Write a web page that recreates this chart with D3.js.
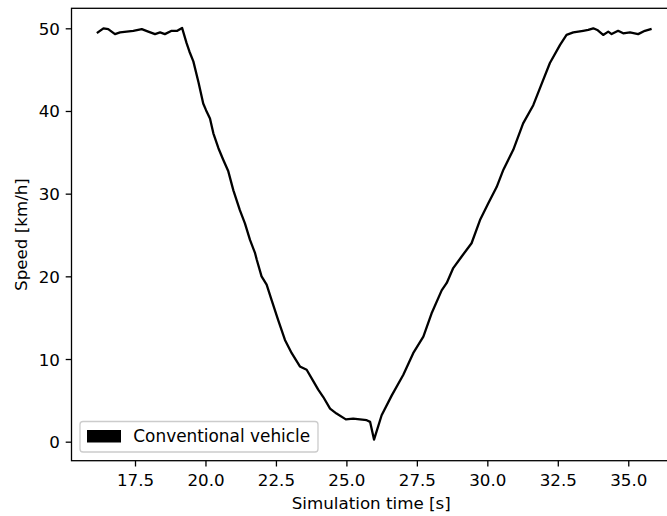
<!DOCTYPE html>
<html>
<head>
<meta charset="utf-8">
<script src="https://cdn.jsdelivr.net/npm/d3@7"></script>
<style>
  html, body { margin: 0; padding: 0; background: #fff; }
  svg { display: block; font-family: "DejaVu Sans", sans-serif; }
</style>
</head>
<body>
<svg id="chart" width="667" height="516"></svg>
<script>
// Simulation time [s] and measured speed [km/h] of the conventional vehicle
const timeSec = [
  16.18, 16.38, 16.55, 16.79, 16.97, 17.44, 17.74, 17.97, 18.21, 18.39,
  18.56, 18.80, 19.00, 19.17, 19.33, 19.43, 19.57, 19.75, 19.92, 20.02,
  20.16, 20.28, 20.46, 20.63, 20.81, 20.99, 21.22, 21.40, 21.58, 21.76,
  21.82, 21.99, 22.17, 22.35, 22.58, 22.82, 23.06, 23.35, 23.59, 23.83,
  24.00, 24.18, 24.42, 24.65, 24.98, 25.24, 25.72, 25.84, 25.98, 26.25,
  26.61, 27.02, 27.37, 27.73, 28.02, 28.38, 28.56, 28.79, 29.09, 29.44,
  29.74, 30.03, 30.33, 30.57, 30.92, 31.27, 31.63, 31.93, 32.22, 32.58,
  32.81, 33.05, 33.40, 33.58, 33.76, 33.90, 34.11, 34.29, 34.41, 34.64,
  34.82, 35.06, 35.35, 35.59, 35.79
];
const speedKmh = [
  49.5, 50.0, 49.9, 49.3, 49.5, 49.7, 49.9, 49.6, 49.3, 49.5,
  49.3, 49.7, 49.7, 50.05, 48.2, 47.2, 46.0, 43.5, 40.9, 40.1,
  39.1, 37.3, 35.5, 34.1, 32.7, 30.4, 28.0, 26.4, 24.4, 22.8,
  22.0, 20.0, 19.0, 17.1, 14.7, 12.3, 10.7, 9.1, 8.7, 7.3,
  6.3, 5.4, 4.0, 3.4, 2.7, 2.8, 2.6, 2.4, 0.25, 3.2,
  5.6, 8.1, 10.7, 12.7, 15.5, 18.3, 19.2, 21.0, 22.4, 24.0,
  26.8, 28.8, 30.8, 32.9, 35.3, 38.5, 40.7, 43.3, 45.8, 48.0,
  49.2, 49.5, 49.7, 49.8, 50.0, 49.8, 49.2, 49.6, 49.3, 49.7,
  49.4, 49.5, 49.3, 49.7, 49.9
];
const xTicks = [17.5, 20.0, 22.5, 25.0, 27.5, 30.0, 32.5, 35.0];
const yTicks = [0, 10, 20, 30, 40, 50];
const seriesName = "Conventional vehicle";
const xLabel = "Simulation time [s]";
const yLabel = "Speed [km/h]";

const svg = d3.select("#chart");
const fontPx = 16.7;
const tickLen = 5.8;

// plot area (right edge runs past the canvas)
const plot = { left: 71.5, top: 8.3, right: 679, bottom: 460.7 };

const x = d3.scaleLinear().domain([15.247, 36.80]).range([plot.left, plot.right]);
const y = d3.scaleLinear().domain([-2.30, 52.42]).range([plot.bottom, plot.top]);

// data line
const line = d3.line().x((d, i) => x(timeSec[i])).y((d, i) => y(speedKmh[i]));
svg.append("path")
  .datum(speedKmh)
  .attr("d", line)
  .attr("fill", "none")
  .attr("stroke", "#000")
  .attr("stroke-width", 2.3)
  .attr("stroke-linejoin", "round")
  .attr("stroke-linecap", "square");

// frame
svg.append("rect")
  .attr("x", plot.left).attr("y", plot.top)
  .attr("width", plot.right - plot.left).attr("height", plot.bottom - plot.top)
  .attr("fill", "none").attr("stroke", "#000").attr("stroke-width", 1.3);

// x axis
const gx = svg.append("g")
  .attr("transform", `translate(0,${plot.bottom})`)
  .call(d3.axisBottom(x).tickValues(xTicks).tickFormat(d3.format(".1f"))
    .tickSize(tickLen).tickSizeOuter(0).tickPadding(7.6));
gx.select(".domain").remove();
gx.selectAll(".tick line").attr("stroke", "#000").attr("stroke-width", 1.3);
gx.selectAll(".tick text").attr("fill", "#000").style("font-size", fontPx + "px")
  .style("font-family", "DejaVu Sans");

// y axis
const gy = svg.append("g")
  .attr("transform", `translate(${plot.left},0)`)
  .call(d3.axisLeft(y).tickValues(yTicks).tickFormat(d3.format("d"))
    .tickSize(tickLen).tickSizeOuter(0).tickPadding(5.8));
gy.select(".domain").remove();
gy.selectAll(".tick line").attr("stroke", "#000").attr("stroke-width", 1.3);
gy.selectAll(".tick text").attr("fill", "#000").attr("dy", "0.36em")
  .style("font-size", fontPx + "px").style("font-family", "DejaVu Sans");

// axis titles
svg.append("text")
  .attr("x", (plot.left + 667) / 2 + 2).attr("y", 509)
  .attr("text-anchor", "middle").attr("fill", "#000")
  .style("font-size", fontPx + "px")
  .text(xLabel);

svg.append("text")
  .attr("transform", `translate(27,${(plot.top + plot.bottom) / 2}) rotate(-90)`)
  .attr("text-anchor", "middle").attr("fill", "#000")
  .style("font-size", fontPx + "px")
  .text(yLabel);

// legend
const lg = svg.append("g");
lg.append("rect")
  .attr("x", 80).attr("y", 421.5).attr("width", 238).attr("height", 30.5)
  .attr("rx", 3).attr("ry", 3)
  .attr("fill", "#fff").attr("fill-opacity", 0.8)
  .attr("stroke", "#cccccc").attr("stroke-width", 1.3);
lg.append("rect")
  .attr("x", 87).attr("y", 430).attr("width", 34).attr("height", 12.5)
  .attr("fill", "#000");
lg.append("text")
  .attr("x", 133.3).attr("y", 441.6)
  .attr("fill", "#000")
  .style("font-size", "16.9px")
  .text(seriesName);
</script>
</body>
</html>
